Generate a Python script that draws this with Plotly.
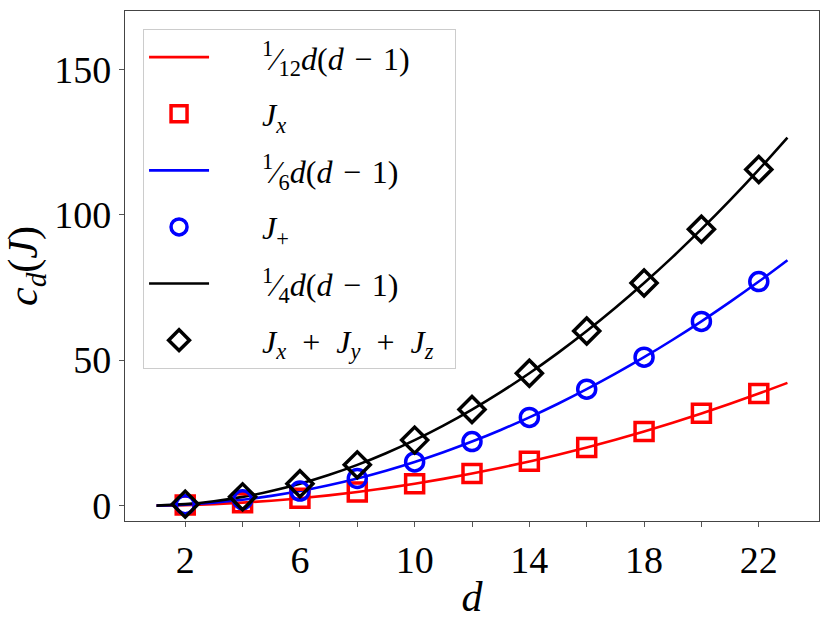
import plotly.graph_objects as go

# ---- data ----
d_line = list(range(1, 24))
fit_x = [0, 0.17, 0.5, 1, 1.67, 2.5, 3.5, 4.67, 6, 7.5, 9.17, 11, 13, 15.17, 17.5,
         20, 22.67, 25.5, 28.5, 31.67, 35, 38.5, 42.17]
fit_plus = [0, 0.33, 1, 2, 3.33, 5, 7, 9.33, 12, 15, 18.33, 22, 26, 30.33, 35,
            40, 45.33, 51, 57, 63.33, 70, 77, 84.33]
fit_sum = [0, 0.5, 1.5, 3, 5, 7.5, 10.5, 14, 18, 22.5, 27.5, 33, 39, 45.5, 52.5,
           60, 68, 76.5, 85.5, 95, 105, 115.5, 126.5]

d_pts = [2, 4, 6, 8, 10, 12, 14, 16, 18, 20, 22]
Jx = [0.2, 1.0, 2.5, 4.7, 7.5, 11.0, 15.2, 20.0, 25.5, 31.7, 38.5]
Jplus = [0.3, 2.0, 5.0, 9.3, 15.0, 22.0, 30.3, 40.0, 51.0, 63.3, 77.0]
Jsum = [0.5, 3.0, 7.5, 14.0, 22.5, 33.0, 45.5, 60.0, 76.5, 95.0, 115.5]

x_tickvals = [2, 4, 6, 8, 10, 12, 14, 16, 18, 20, 22]
x_ticktext = ["2", "", "6", "", "10", "", "14", "", "18", "", "22"]
y_tickvals = [0, 50, 100, 150]

FONT = "Liberation Serif"
PAD = "\u00a0" * 6
SP = "\u2004"
SP2 = "\u2002"

fig = go.Figure()

def line(x, y, color, name, g, rank):
    fig.add_trace(go.Scatter(x=x, y=y, mode="lines", line=dict(color=color, width=2.6, shape="spline"),
                             name=PAD + name, legendgroup=g, legendrank=rank))

def pts(x, y, color, symbol, size, name, g, rank):
    fig.add_trace(go.Scatter(x=x, y=y, mode="markers",
                             marker=dict(symbol=symbol, size=size, color=color,
                                         line=dict(color=color, width=3.5)),
                             name=PAD + name, legendgroup=g, legendrank=rank))

dd = "<i>d</i>(<i>d</i>" + SP + "−" + SP + "1)"
line(d_line, fit_x, "#ff0000", "<sup>1</sup>⁄<sub>12</sub>" + dd, "a", 1)
line(d_line, fit_plus, "#0000ff", "<sup>1</sup>⁄<sub>6</sub>" + dd, "c", 3)
line(d_line, fit_sum, "#000000", "<sup>1</sup>⁄<sub>4</sub>" + dd, "e", 5)
pts(d_pts, Jx, "#ff0000", "square-open", 18, "<i>J<sub>x</sub></i>", "b", 2)
pts(d_pts, Jplus, "#0000ff", "circle-open", 18, "<i>J</i><sub>+</sub>", "d", 4)
pts(d_pts, Jsum, "#000000", "diamond-open", 20,
    "<i>J<sub>x</sub></i>" + SP2 + "+" + SP2 + "<i>J<sub>y</sub></i>" + SP2 + "+" + SP2
    + "<i>J<sub>z</sub></i>\u00a0\u00a0", "f", 6)

fig.update_layout(
    width=830, height=620,
    margin=dict(l=125, r=11, t=11, b=99),
    paper_bgcolor="white", plot_bgcolor="white",
    font=dict(family=FONT, size=36, color="black"),
    showlegend=True,
    legend=dict(x=0.026, y=0.965, xanchor="left", yanchor="top",
                bgcolor="rgba(255,255,255,0.8)", bordercolor="#cccccc", borderwidth=1,
                font=dict(family=FONT, size=32), traceorder="grouped", tracegroupgap=12,
                itemwidth=60),
)
fig.update_xaxes(range=[-0.1, 24.1], tickvals=x_tickvals, ticktext=x_ticktext,
                 ticks="outside", ticklen=5, tickwidth=1, tickcolor="#555",
                 showline=True, linecolor="#444", linewidth=1.2, mirror=True,
                 showgrid=False, zeroline=False, automargin=False,
                 title=dict(text="<i>d</i>", font=dict(size=42), standoff=6),
                 tickfont=dict(size=38))
fig.update_yaxes(range=[-5.3, 170], tickvals=y_tickvals,
                 ticks="outside", ticklen=5, tickwidth=1, tickcolor="#555",
                 showline=True, linecolor="#444", linewidth=1.2, mirror=True,
                 showgrid=False, zeroline=False, automargin=False,
                 title=dict(text="<i>c<sub>d</sub></i>(<i>J</i>)", font=dict(size=42), standoff=12),
                 tickfont=dict(size=38))

fig.write_html("out.html", config={"displayModeBar": False},
               post_script="document.body.style.margin='0';document.body.style.overflow='hidden';")
